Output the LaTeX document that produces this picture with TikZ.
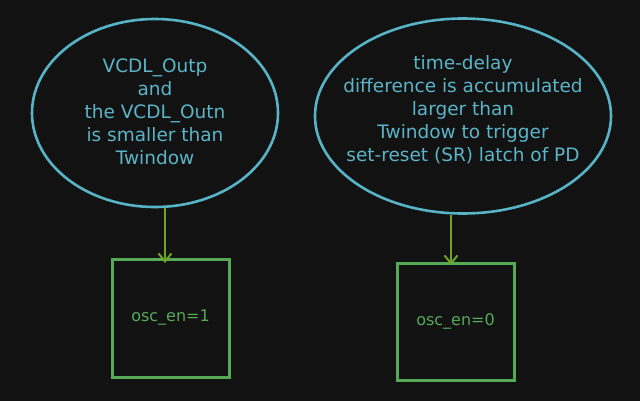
\documentclass[tikz,border=0pt]{standalone}
\usepackage{fontspec}
\setmainfont{DejaVu Sans}
\usetikzlibrary{shapes.geometric,arrows.meta}
\definecolor{bg}{HTML}{121212}
\definecolor{cy}{HTML}{56B4C6}
\definecolor{cytext}{HTML}{5BB5C8}
\definecolor{bx}{HTML}{55A957}
\definecolor{ar}{HTML}{6FA325}
\tikzset{
  bubble/.style={draw=cy, line width=2.6pt, ellipse, inner sep=0pt},
  btext/.style={text=cytext, align=center, font=\fontsize{18.5}{23}\selectfont},
  statebox/.style={draw=bx, line width=3pt, rectangle, inner sep=0pt, text=bx, font=\fontsize{16}{18}\selectfont},
  flow/.style={draw=ar, line width=2.5pt, -{Straight Barb[length=8pt,width=13pt,line width=2pt]}}
}
\begin{document}
\begin{tikzpicture}[x=1pt,y=-1pt]
\useasboundingbox[fill=bg] (0,0) rectangle (640,401);
\node[bubble, minimum width=246pt, minimum height=188pt] (e1) at (155,113) {};
\node[btext] (t1) at (155,112) {VCDL\_Outp\\and\\the VCDL\_Outn\\is smaller than\\Twindow};
\node[bubble, minimum width=296pt, minimum height=195pt] (e2) at (463,116) {};
\node[btext] (t2) at (463,110) {time-delay\\difference is accumulated\\larger than\\Twindow to trigger\\set-reset (SR) latch of PD};
\node[statebox, minimum width=117pt, minimum height=118pt] (b1) at (170.5,318) {osc\_en=1};
\node[statebox, minimum width=117pt, minimum height=117pt] (b2) at (455.5,321.5) {osc\_en=0};
\draw[flow] (e1.south -| 165,0) -- (165,263);
\draw[flow] (e2.south -| 451,0) -- (451,265);
\end{tikzpicture}
\end{document}
